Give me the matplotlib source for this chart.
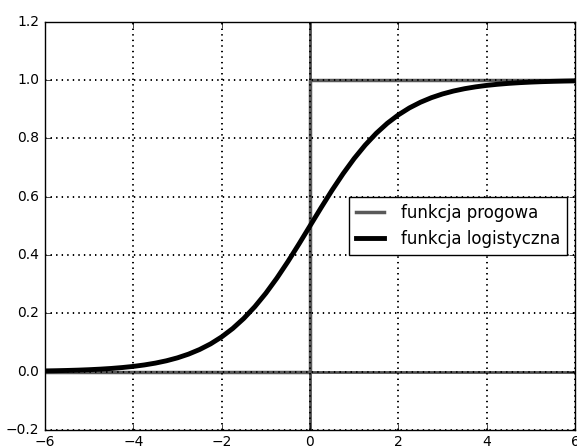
import matplotlib
matplotlib.use('Agg')
import matplotlib.pyplot as plt

plt.style.use('classic')

# logistic curve values
x_log = [-6.0, -5.75, -5.5, -5.25, -5.0, -4.75, -4.5, -4.25, -4.0, -3.75, -3.5, -3.25,
         -3.0, -2.75, -2.5, -2.25, -2.0, -1.75, -1.5, -1.25, -1.0, -0.75, -0.5, -0.25,
         0.0, 0.25, 0.5, 0.75, 1.0, 1.25, 1.5, 1.75, 2.0, 2.25, 2.5, 2.75,
         3.0, 3.25, 3.5, 3.75, 4.0, 4.25, 4.5, 4.75, 5.0, 5.25, 5.5, 5.75, 6.0]
y_log = [0.0025, 0.0032, 0.0041, 0.0052, 0.0067, 0.0086, 0.0110, 0.0141, 0.0180, 0.0230,
         0.0293, 0.0373, 0.0474, 0.0601, 0.0759, 0.0953, 0.1192, 0.1480, 0.1824, 0.2227,
         0.2689, 0.3208, 0.3775, 0.4378, 0.5, 0.5622, 0.6225, 0.6792, 0.7311, 0.7773,
         0.8176, 0.8520, 0.8808, 0.9047, 0.9241, 0.9399, 0.9526, 0.9627, 0.9707, 0.9770,
         0.9820, 0.9859, 0.9890, 0.9914, 0.9933, 0.9948, 0.9959, 0.9968, 0.9975]

# step function
x_step = [-6, 0, 0, 6]
y_step = [0, 0, 1, 1]

fig = plt.figure(figsize=(5.77, 4.46), dpi=100, facecolor='white')
ax = fig.add_subplot(111)
fig.subplots_adjust(left=0.078, right=0.9965, bottom=0.036, top=0.951)

# axis lines through the origin
ax.axhline(0, color='0.3', linewidth=2)
ax.axvline(0, color='0.3', linewidth=2)

ax.plot(x_step, y_step, color='0.35', linewidth=2.5, label='funkcja progowa')
ax.plot(x_log, y_log, color='black', linewidth=3.5, label='funkcja logistyczna')

ax.set_xlim(-6, 6)
ax.set_ylim(-0.2, 1.2)
ax.set_xticks([-6, -4, -2, 0, 2, 4, 6])
ax.set_yticks([-0.2, 0.0, 0.2, 0.4, 0.6, 0.8, 1.0, 1.2])
ax.tick_params(labelsize=10)
ax.grid(True, color='black', linestyle=':', linewidth=1.4)
ax.legend(loc='center right', fontsize=12, frameon=True, fancybox=False, numpoints=1,
          handlelength=1.7, handletextpad=1.0)

plt.savefig('out.png', dpi=100, facecolor='white')
